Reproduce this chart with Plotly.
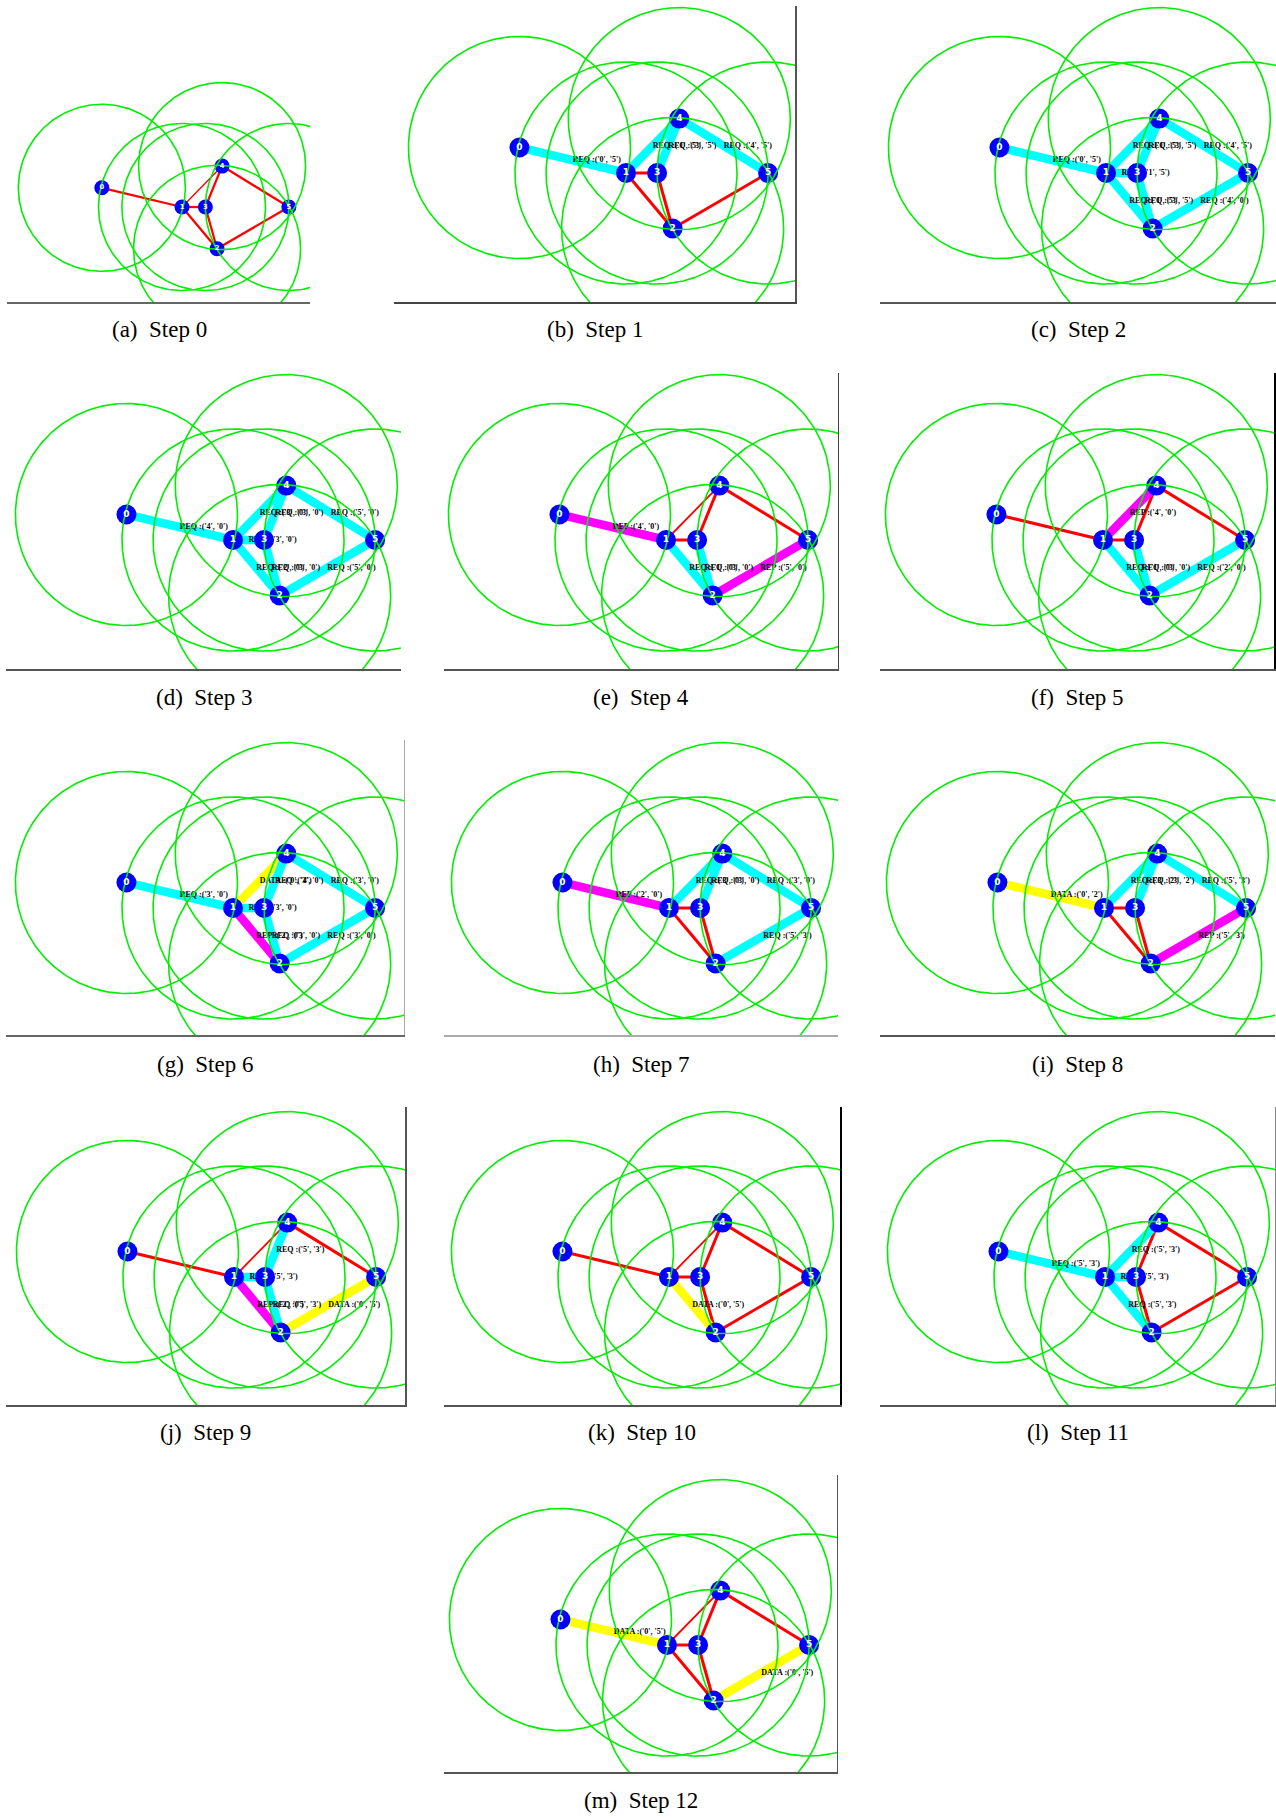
import numpy as np
import plotly.graph_objects as go

# ---- network data -------------------------------------------------------
node_ids = ["0", "1", "2", "3", "4", "5"]
node_x = [104, 200, 242, 228, 248, 328]
node_y = [223, 200, 150, 200, 249, 200]
radio_range = 100

edge_list = [(0, 1), (1, 3), (1, 4), (1, 2), (3, 4), (3, 2), (4, 5), (2, 5)]

# edge colour code per step, in edge_list order
# r = idle link, c = REQ, m = REP, y = DATA
edge_state = [
    "rrrrrrrr",
    "crcrcrcr",
    "cccccccc",
    "cccccccc",
    "mrrcrcrm",
    "rrmcrcrc",
    "ccymcccc",
    "mrcrcrcc",
    "yrcrcrcm",
    "rcrmccry",
    "rrryrrrr",
    "ccccrrrr",
    "yrrrrrry",
]

# message text shown at the midpoint of each active edge, per step
edge_labels = [
    {},
    {0: "REQ :('0', '5')", 2: "REQ :('1', '5')", 4: "REQ :('3', '5')", 6: "REQ :('4', '5')"},
    {0: "REQ :('0', '5')", 1: "REQ :('1', '5')", 2: "REQ :('1', '5')", 3: "REQ :('1', '5')",
     4: "REQ :('3', '5')", 5: "REQ :('3', '5')", 6: "REQ :('4', '5')", 7: "REQ :('4', '0')"},
    {0: "REQ :('4', '0')", 1: "REQ :('3', '0')", 2: "REQ :('3', '0')", 3: "REQ :('2', '0')",
     4: "REQ :('3', '0')", 5: "REQ :('3', '0')", 6: "REQ :('5', '0')", 7: "REQ :('5', '0')"},
    {0: "REP :('4', '0')", 3: "REQ :('1', '0')", 5: "REQ :('3', '0')", 7: "REP :('5', '0')"},
    {2: "REP :('4', '0')", 3: "REQ :('1', '0')", 5: "REQ :('3', '0')", 7: "REQ :('2', '0')"},
    {0: "REQ :('3', '0')", 1: "REQ :('3', '0')", 2: "DATA :('0', '4')", 3: "REP :('2', '0')",
     4: "REQ :('3', '0')", 5: "REQ :('3', '0')", 6: "REQ :('3', '0')", 7: "REQ :('3', '0')"},
    {0: "REP :('2', '0')", 2: "REQ :('3', '0')", 4: "REQ :('3', '0')", 6: "REQ :('3', '0')",
     7: "REQ :('5', '3')"},
    {0: "DATA :('0', '2')", 2: "REQ :('3', '2')", 4: "REQ :('3', '2')", 6: "REQ :('5', '3')",
     7: "REP :('5', '3')"},
    {1: "REQ :('5', '3')", 3: "REP :('2', '0')", 4: "REQ :('5', '3')", 5: "REQ :('5', '3')",
     7: "DATA :('0', '5')"},
    {3: "DATA :('0', '5')"},
    {0: "REQ :('5', '3')", 1: "REQ :('5', '3')", 2: "REQ :('5', '3')", 3: "REQ :('5', '3')"},
    {0: "DATA :('0', '5')", 7: "DATA :('0', '5')"},
]

captions = ["(a)  Step 0", "(b)  Step 1", "(c)  Step 2", "(d)  Step 3", "(e)  Step 4",
            "(f)  Step 5", "(g)  Step 6", "(h)  Step 7", "(i)  Step 8", "(j)  Step 9",
            "(k)  Step 10", "(l)  Step 11", "(m)  Step 12"]

# ---- page layout (pixels) -----------------------------------------------
W, H = 1276, 1818
# left, right, top, bottom of each axes box, pixel position of node 1, px per unit
frames = [
    (7, 310, 6, 302, 182, 207, 0.835),
    (394, 795, 6, 302, 626, 173, 1.11),
    (880, 1276, 6, 302, 1106, 173, 1.11),
    (6, 401, 373, 669, 233, 540, 1.11),
    (444, 838, 373, 669, 666, 540, 1.11),
    (880, 1274, 373, 669, 1103, 540, 1.11),
    (6, 404, 740, 1035, 233, 908, 1.11),
    (444, 838, 740, 1035, 669, 908, 1.11),
    (880, 1275, 740, 1035, 1104, 908, 1.11),
    (6, 405, 1107, 1405, 234, 1277, 1.11),
    (444, 840, 1107, 1405, 669, 1277, 1.11),
    (880, 1275, 1107, 1405, 1105, 1277, 1.11),
    (444, 837, 1475, 1772, 667, 1645, 1.11),
]
# right-hand frame edge: (colour, width) or None
right_spine = [None, ("#555555", 1.5), None, None, ("#444444", 1), ("#000000", 2),
               ("#aaaaaa", 1), None, None, ("#555555", 1.5), ("#000000", 2),
               ("#888888", 1), ("#555555", 1)]
bottom_color = ["#666666", "#444444", "#555555", "#555555", "#555555", "#555555",
                "#666666", "#aaaaaa", "#555555", "#555555", "#555555", "#555555", "#555555"]
caption_y = [330, 330, 330, 697, 697, 697, 1064, 1064, 1064, 1432, 1432, 1432, 1800]

edge_colors = {"r": "#ff0000", "c": "#00ffff", "m": "#ff00ff", "y": "#ffff00"}

fig = go.Figure()
layout_axes = {}
annotations = []

theta = np.linspace(0, 2 * np.pi, 241)

for i, (left, right, top, bottom, n1x, n1y, s) in enumerate(frames):
    k = s / 1.11
    xa = "x" if i == 0 else f"x{i + 1}"
    ya = "y" if i == 0 else f"y{i + 1}"
    X1, Y1 = node_x[1], node_y[1]
    xr = [X1 + (left - n1x) / s, X1 + (right - n1x) / s]
    yr = [Y1 - (bottom - n1y) / s, Y1 - (top - n1y) / s]

    # edges: idle links first, active messages on top
    states = edge_state[i]
    order = sorted(range(len(edge_list)), key=lambda j: states[j] != "r")
    for j in order:
        a, b = edge_list[j]
        st = states[j]
        if st == "r":
            w = (1.8 if (a, b) == (1, 4) else 3.0) * k
        else:
            w = 8.5 * k
        fig.add_trace(go.Scatter(
            x=[node_x[a], node_x[b]], y=[node_y[a], node_y[b]],
            mode="lines", line=dict(color=edge_colors[st], width=w),
            xaxis=xa, yaxis=ya, hoverinfo="skip", showlegend=False))

    # message labels at edge midpoints
    labs = edge_labels[i]
    if labs:
        lx, ly, lt = [], [], []
        for j, txt in labs.items():
            a, b = edge_list[j]
            lx.append((node_x[a] + node_x[b]) / 2)
            ly.append((node_y[a] + node_y[b]) / 2)
            lt.append(f"<b>{txt}</b>")
        fig.add_trace(go.Scatter(
            x=lx, y=ly, text=lt, mode="text", textposition="middle right",
            textfont=dict(family="Liberation Serif", size=8, color="black"),
            xaxis=xa, yaxis=ya, hoverinfo="skip", showlegend=False))

    # nodes
    fig.add_trace(go.Scatter(
        x=node_x, y=node_y, mode="markers",
        marker=dict(size=20 * k, color="#0000ff", line=dict(width=0)),
        xaxis=xa, yaxis=ya, hoverinfo="skip", showlegend=False))

    # radio range of every node
    cx, cy = [], []
    for nx, ny in zip(node_x, node_y):
        cx += list(nx + radio_range * np.cos(theta)) + [None]
        cy += list(ny + radio_range * np.sin(theta)) + [None]
    fig.add_trace(go.Scatter(
        x=cx, y=cy, mode="lines", line=dict(color="#00ee00", width=1.6),
        xaxis=xa, yaxis=ya, hoverinfo="skip", showlegend=False))

    # node numbers
    fig.add_trace(go.Scatter(
        x=node_x, y=node_y, text=[f"<b>{n}</b>" for n in node_ids], mode="text",
        textposition="middle center",
        textfont=dict(family="DejaVu Sans", size=9 * k, color="white"),
        xaxis=xa, yaxis=ya, hoverinfo="skip", showlegend=False))

    xkey = "xaxis" if i == 0 else f"xaxis{i + 1}"
    ykey = "yaxis" if i == 0 else f"yaxis{i + 1}"
    layout_axes[xkey] = dict(
        domain=[left / W, right / W], range=xr, anchor=ya,
        showline=True, linecolor=bottom_color[i], linewidth=1.5, mirror=False,
        showgrid=False, zeroline=False, showticklabels=False, ticks="", fixedrange=True)
    spine = right_spine[i]
    layout_axes[ykey] = dict(
        domain=[1 - bottom / H, 1 - top / H], range=yr, anchor=xa, side="right",
        showline=spine is not None,
        linecolor=spine[0] if spine else "#000000",
        linewidth=spine[1] if spine else 1,
        showgrid=False, zeroline=False, showticklabels=False, ticks="", fixedrange=True)

    annotations.append(dict(
        x=(left + right) / 2 / W if i != 0 else 159 / W, y=1 - caption_y[i] / H,
        xref="paper", yref="paper", text=captions[i], showarrow=False,
        xanchor="center", yanchor="middle",
        font=dict(family="Liberation Serif", size=23, color="black")))

fig.update_layout(
    width=W, height=H, margin=dict(l=0, r=0, t=0, b=0),
    paper_bgcolor="white", plot_bgcolor="white",
    showlegend=False, hovermode=False, annotations=annotations, **layout_axes)

fig.write_html("out.html")
